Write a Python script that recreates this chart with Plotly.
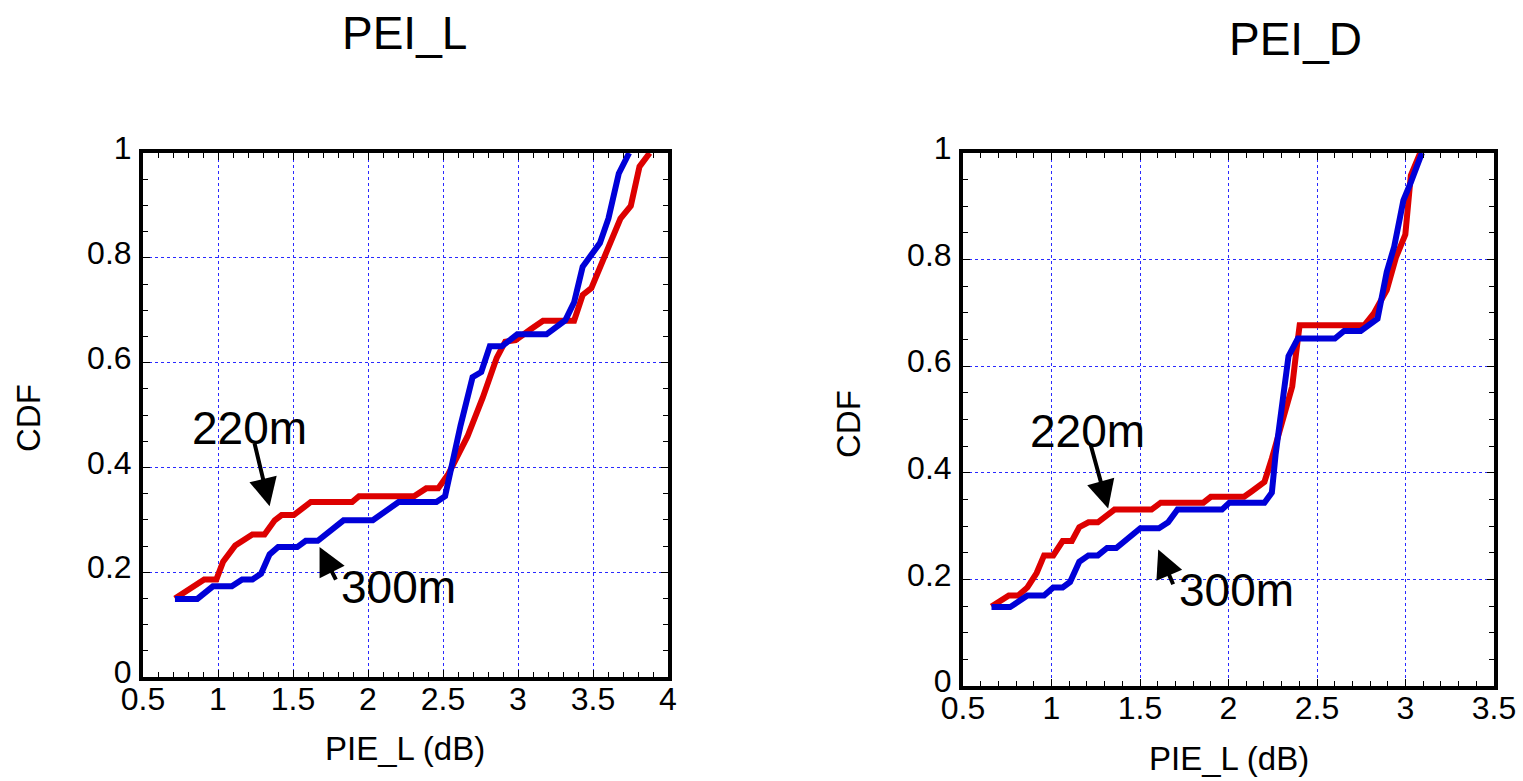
import plotly.graph_objects as go

# ---------------- data ----------------
# Left panel (PEI_L)
L_220_x = [0.713, 0.908, 0.989, 1.034, 1.115, 1.229, 1.31, 1.378, 1.424, 1.505, 1.619, 1.894, 1.94,
           2.307, 2.388, 2.468, 2.537, 2.663, 2.766, 2.858, 2.915, 2.984, 3.087, 3.167, 3.374, 3.431,
           3.489, 3.546, 3.615, 3.683, 3.752, 3.81, 3.878]
L_220_y = [0.15, 0.186, 0.186, 0.22, 0.251, 0.272, 0.272, 0.299, 0.309, 0.309, 0.334, 0.334, 0.345,
           0.345, 0.36, 0.36, 0.388, 0.459, 0.534, 0.609, 0.64, 0.643, 0.664, 0.68, 0.68, 0.729,
           0.742, 0.783, 0.828, 0.875, 0.899, 0.974, 1.0]
L_300_x = [0.713, 0.862, 0.966, 1.092, 1.161, 1.229, 1.287, 1.344, 1.401, 1.528, 1.585, 1.665, 1.837,
           2.032, 2.204, 2.456, 2.514, 2.56, 2.617, 2.697, 2.755, 2.812, 2.892, 2.995, 3.19, 3.316,
           3.374, 3.431, 3.546, 3.603, 3.672, 3.741]
L_300_y = [0.149, 0.149, 0.173, 0.173, 0.186, 0.186, 0.197, 0.234, 0.248, 0.248, 0.26, 0.26, 0.299,
           0.299, 0.334, 0.334, 0.345, 0.411, 0.48, 0.572, 0.582, 0.631, 0.631, 0.654, 0.654, 0.681,
           0.715, 0.783, 0.828, 0.875, 0.961, 1.0]

# Right panel (PEI_D)
D_220_x = [0.661, 0.759, 0.812, 0.864, 0.916, 0.958, 1.01, 1.063, 1.115, 1.157, 1.209, 1.262, 1.356,
           1.565, 1.617, 1.858, 1.9, 2.088, 2.13, 2.203, 2.245, 2.308, 2.36, 2.381, 2.402, 2.768,
           2.821, 2.894, 2.946, 2.999, 3.03, 3.083]
D_220_y = [0.149, 0.17, 0.17, 0.185, 0.212, 0.245, 0.245, 0.272, 0.272, 0.298, 0.307, 0.307, 0.331,
           0.331, 0.344, 0.344, 0.355, 0.355, 0.365, 0.383, 0.427, 0.501, 0.562, 0.622, 0.677, 0.677,
           0.699, 0.743, 0.804, 0.847, 0.958, 1.0]
D_300_x = [0.661, 0.766, 0.864, 0.958, 1.01, 1.063, 1.105, 1.157, 1.209, 1.262, 1.314, 1.366, 1.502,
           1.607, 1.659, 1.712, 1.963, 2.005, 2.203, 2.245, 2.266, 2.298, 2.339, 2.392, 2.601, 2.653,
           2.747, 2.842, 2.894, 2.936, 2.988, 3.03, 3.093]
D_300_y = [0.148, 0.148, 0.17, 0.17, 0.185, 0.185, 0.195, 0.233, 0.245, 0.245, 0.259, 0.259, 0.296,
           0.296, 0.307, 0.331, 0.331, 0.344, 0.344, 0.363, 0.434, 0.521, 0.619, 0.652, 0.652, 0.666,
           0.666, 0.689, 0.777, 0.824, 0.911, 0.945, 1.0]

titles = ["PEI_L", "PEI_D"]
x_title = "PIE_L (dB)"
y_title = "CDF"
labels = ["220m", "300m"]

RED = "#dd0000"
BLUE = "#0000d8"
FONT = "Liberation Sans, Arial, Helvetica, sans-serif"
W, H = 1523, 781

fig = go.Figure()
fig.add_trace(go.Scatter(x=L_220_x, y=L_220_y, mode="lines", line=dict(color=RED, width=6),
                         xaxis="x", yaxis="y", showlegend=False))
fig.add_trace(go.Scatter(x=L_300_x, y=L_300_y, mode="lines", line=dict(color=BLUE, width=6),
                         xaxis="x", yaxis="y", showlegend=False))
fig.add_trace(go.Scatter(x=D_220_x, y=D_220_y, mode="lines", line=dict(color=RED, width=6),
                         xaxis="x2", yaxis="y2", showlegend=False))
fig.add_trace(go.Scatter(x=D_300_x, y=D_300_y, mode="lines", line=dict(color=BLUE, width=6),
                         xaxis="x2", yaxis="y2", showlegend=False))


def make_axis(minor_dtick, standoff, shift):
    return dict(
        automargin=False,
        showline=True, linecolor="black", linewidth=4, mirror="allticks",
        ticks="inside", ticklen=7, tickwidth=1, tickcolor="black",
        showgrid=True, gridcolor="#2a2aff", gridwidth=1, griddash="dot",
        zeroline=False,
        tickfont=dict(family=FONT, size=32, color="black"),
        ticklabelstandoff=standoff,
        ticklabelshift=shift,
        minor=dict(ticks="inside", ticklen=5, tickwidth=1, tickcolor="black",
                   showgrid=False, dtick=minor_dtick),
        fixedrange=True,
    )


xa = make_axis(0.1, -9, 0)
xa.update(domain=[143 / W, 668 / W], range=[0.5, 4], tick0=0.5, dtick=0.5, anchor="y")
ya = make_axis(0.05, 1, -5)
ya.update(domain=[1 - 677 / H, 1 - 153 / H], range=[0, 1], tick0=0, dtick=0.2, anchor="x")
xa2 = make_axis(0.1, -9, 0)
xa2.update(domain=[963 / W, 1494 / W], range=[0.5, 3.5], tick0=0.5, dtick=0.5, anchor="y2")
ya2 = make_axis(0.05, 1, -5)
ya2.update(domain=[1 - 686 / H, 1 - 153 / H], range=[0, 1], tick0=0, dtick=0.2, anchor="x2")


def paper_text(text, px, py, size, angle=0):
    return dict(text=text, x=px / W, y=1 - py / H, xref="paper", yref="paper", showarrow=False,
                xanchor="center", yanchor="middle", textangle=angle,
                font=dict(family=FONT, size=size, color="black"))


annotations = [
    paper_text(titles[0], 404, 33, 46),
    paper_text(titles[1], 1295, 39, 46),
    paper_text(y_title, 29, 418, 33, -90),
    paper_text(y_title, 848, 424, 33, -90),
    paper_text(x_title, 405, 748, 33),
    paper_text(x_title, 1229, 758, 33),
]


def add_label(xref, yref, text, tx, ty, tipx, tipy, tailx, taily):
    annotations.append(dict(text=text, x=tx, y=ty, xref=xref, yref=yref, showarrow=False,
                            xanchor="center", yanchor="middle",
                            font=dict(family=FONT, size=46, color="black")))
    annotations.append(dict(text="", x=tipx, y=tipy, ax=tailx, ay=taily, xref=xref, yref=yref,
                            axref=xref, ayref=yref, showarrow=True, arrowhead=2, arrowsize=1.4,
                            arrowwidth=4, arrowcolor="black", standoff=0, startstandoff=0))


add_label("x", "y", labels[0], 1.21, 0.475, 1.344, 0.326, 1.241, 0.449)
add_label("x", "y", labels[1], 2.204, 0.172, 1.677, 0.248, 1.791, 0.183)
add_label("x2", "y2", labels[0], 1.202, 0.478, 1.32, 0.333, 1.22, 0.454)
add_label("x2", "y2", labels[1], 2.047, 0.18, 1.603, 0.256, 1.691, 0.188)

fig.update_layout(
    width=W, height=H,
    margin=dict(l=0, r=0, t=0, b=0),
    paper_bgcolor="white", plot_bgcolor="white",
    xaxis=xa, yaxis=ya, xaxis2=xa2, yaxis2=ya2,
    annotations=annotations,
    font=dict(family=FONT, color="black"),
    showlegend=False,
)

fig.write_html("out.html", config={"displayModeBar": False})
